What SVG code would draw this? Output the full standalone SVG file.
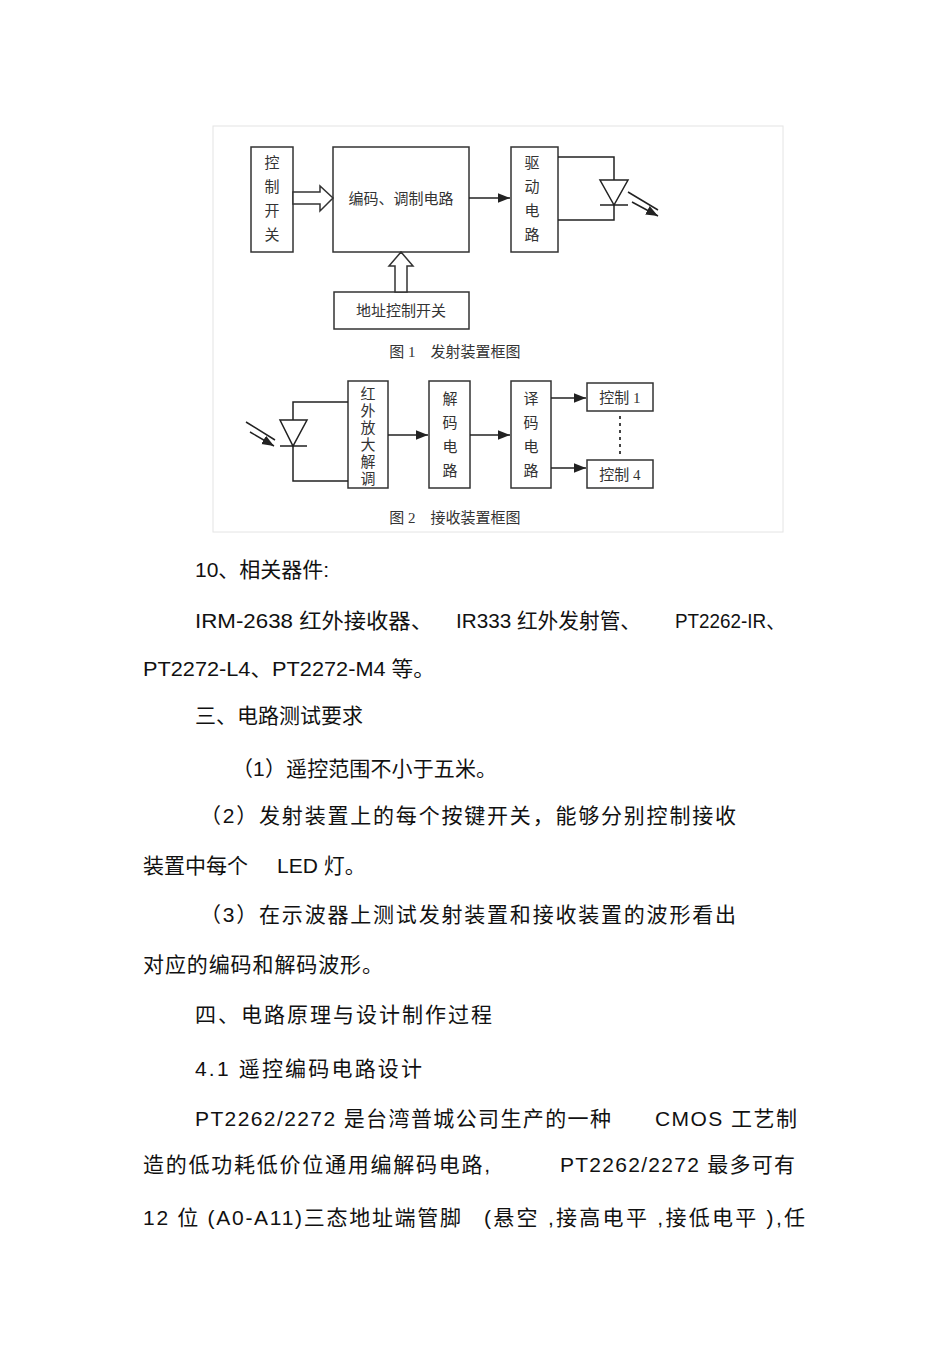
<svg xmlns="http://www.w3.org/2000/svg" width="950" height="1345" viewBox="0 0 950 1345">
<style>
.b{fill:#fff;stroke:#333;stroke-width:1.5}
.w{fill:none;stroke:#222;stroke-width:1.5}
.d{font-family:"Liberation Serif","Noto Sans CJK SC",serif;font-size:15px;fill:#333}
.t{font-family:"Liberation Sans","Noto Sans CJK SC",sans-serif;font-size:21px;fill:#111}
</style>
<defs><marker id="a" viewBox="0 0 10 10" refX="10" refY="5" markerWidth="8" markerHeight="8" orient="auto"><path d="M0,1 L10,5 L0,9 z" fill="#222"/></marker></defs>
<rect x="213" y="126" width="570" height="406" fill="#fff" stroke="#e4e4e4"/>
<g id="ctrl"><rect class="b" x="251" y="147" width="42" height="105"/><text class="d" x="272" y="168" text-anchor="middle">控</text><text class="d" x="272" y="192" text-anchor="middle">制</text><text class="d" x="272" y="216" text-anchor="middle">开</text><text class="d" x="272" y="240" text-anchor="middle">关</text></g>
<g id="enc"><rect class="b" x="333" y="147" width="136" height="105"/><text class="d" x="401" y="204" text-anchor="middle">编码、调制电路</text></g>
<g id="drv"><rect class="b" x="511" y="147" width="47" height="105"/><text class="d" x="532" y="168" text-anchor="middle">驱</text><text class="d" x="532" y="192" text-anchor="middle">动</text><text class="d" x="532" y="216" text-anchor="middle">电</text><text class="d" x="532" y="240" text-anchor="middle">路</text></g>
<g id="addr"><rect class="b" x="334" y="292" width="135" height="37"/><text class="d" x="401" y="316" text-anchor="middle">地址控制开关</text></g>
<g id="led"><path class="w" d="M600,180 L628,180 L614,205 Z M600,205 L628,205"/><path class="w" d="M628,192 L658,210 M632,202 L658,216" marker-end="url(#a)"/></g>
<text class="d" x="455" y="357" text-anchor="middle">图 1　发射装置框图</text>
<g id="rx"><rect class="b" x="348" y="381" width="40" height="107"/><g class="d" text-anchor="middle"><text x="368" y="399">红</text><text x="368" y="416">外</text><text x="368" y="433">放</text><text x="368" y="450">大</text><text x="368" y="467">解</text><text x="368" y="484">调</text></g></g>
<g id="dec"><rect class="b" x="429" y="381" width="41" height="107"/><g class="d" text-anchor="middle"><text x="450" y="404">解</text><text x="450" y="428">码</text><text x="450" y="452">电</text><text x="450" y="476">路</text></g></g>
<g id="tr"><rect class="b" x="511" y="381" width="40" height="107"/><g class="d" text-anchor="middle"><text x="531" y="404">译</text><text x="531" y="428">码</text><text x="531" y="452">电</text><text x="531" y="476">路</text></g></g>
<g id="c1"><rect class="b" x="587" y="383" width="66" height="28"/><text class="d" x="620" y="403" text-anchor="middle">控制 1</text></g>
<g id="c4"><rect class="b" x="587" y="460" width="66" height="28"/><text class="d" x="620" y="480" text-anchor="middle">控制 4</text></g>
<g id="pd"><path class="w" d="M280,420 L307,420 L293,446 Z M280,446 L307,446"/><path class="w" d="M246,422 L275,440 M250,432 L274,446" marker-end="url(#a)"/></g>
<text class="d" x="455" y="523" text-anchor="middle">图 2　接收装置框图</text>
<g id="connectors">
<path class="w" d="M293,420 L293,402 L348,402 M293,446 L293,481 L348,481 M614,180 L614,157 L558,157 M614,205 L614,220 L558,220"/>
<path class="w" d="M469,198 L510,198" marker-end="url(#a)"/>
<path class="w" d="M388,435 L428,435" marker-end="url(#a)"/>
<path class="w" d="M470,435 L510,435" marker-end="url(#a)"/>
<path class="w" d="M551,398 L586,398" marker-end="url(#a)"/>
<path class="w" d="M551,468 L586,468" marker-end="url(#a)"/>
<path d="M620,416 L620,454" stroke="#444" stroke-width="2" stroke-dasharray="3,4"/>
<path class="b" d="M293,192 L320,192 L320,186 L333,198 L320,211 L320,204 L293,204 Z"/>
<path class="b" d="M395,292 L395,266 L389,266 L401,252 L413,266 L407,266 L407,292 Z"/>
</g>
<g class="t">
<text x="195" y="577">10、相关器件:</text>
<text x="195" y="628" textLength="238" lengthAdjust="spacingAndGlyphs">IRM-2638 红外接收器、</text>
<text x="456" y="628" textLength="185" lengthAdjust="spacingAndGlyphs">IR333 红外发射管、</text>
<text x="675" y="628" textLength="110" lengthAdjust="spacingAndGlyphs">PT2262-IR、</text>
<text x="143" y="676" textLength="292" lengthAdjust="spacingAndGlyphs">PT2272-L4、PT2272-M4 等。</text>
<text x="195" y="723">三、电路测试要求</text>
<text x="232" y="776" textLength="265">（1）遥控范围不小于五米。</text>
<text x="200" y="823" textLength="536">（2）发射装置上的每个按键开关，能够分别控制接收</text>
<text x="143" y="873">装置中每个</text>
<text x="277" y="873">LED 灯。</text>
<text x="200" y="922" textLength="536">（3）在示波器上测试发射装置和接收装置的波形看出</text>
<text x="143" y="972" textLength="240">对应的编码和解码波形。</text>
<text x="195" y="1022" textLength="297">四、电路原理与设计制作过程</text>
<text x="195" y="1076" textLength="227">4.1  遥控编码电路设计</text>
<text x="195" y="1126" textLength="416">PT2262/2272  是台湾普城公司生产的一种</text>
<text x="655" y="1126" textLength="142">CMOS 工艺制</text>
<text x="143" y="1172" textLength="347">造的低功耗低价位通用编解码电路,</text>
<text x="560" y="1172" textLength="235">PT2262/2272  最多可有</text>
<text x="143" y="1225" textLength="318">12  位 (A0-A11)三态地址端管脚</text>
<text x="484" y="1225" textLength="321">(悬空 ,接高电平  ,接低电平  ),任</text>
</g>
</svg>
